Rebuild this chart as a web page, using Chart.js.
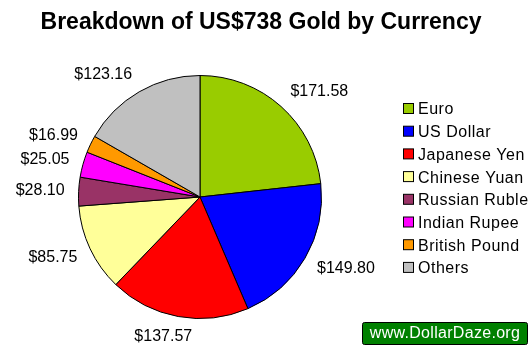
<!DOCTYPE html>
<html>
<head>
<meta charset="utf-8">
<script src="https://cdn.jsdelivr.net/npm/chart.js@4/dist/chart.umd.min.js"></script>
<style>
  body { margin: 0; background: #fff; }
  canvas { display: block; }
</style>
</head>
<body>
<canvas id="chart" width="530" height="349"></canvas>
<script>
const currencies = ['Euro', 'US Dollar', 'Japanese Yen', 'Chinese Yuan', 'Russian Ruble', 'Indian Rupee', 'British Pound', 'Others'];
const amounts = [171.58, 149.80, 137.57, 85.75, 28.10, 25.05, 16.99, 123.16];
const sliceColors = ['#99CC00', '#0000FF', '#FF0000', '#FFFF99', '#993366', '#FF00FF', '#FF9900', '#C0C0C0'];
const chartTitle = 'Breakdown of US$738 Gold by Currency';
const siteBadge = 'www.DollarDaze.org';

const FONT = 'Arial, "Liberation Sans", sans-serif';

// labels outside each slice + title, legend and site badge
const extras = {
  id: 'extras',
  afterDraw(chart) {
    const ctx = chart.ctx;
    const arcs = chart.getDatasetMeta(0).data;
    ctx.save();
    ctx.fillStyle = '#000';
    ctx.font = '16px ' + FONT;
    ctx.textAlign = 'left';
    ctx.textBaseline = 'middle';
    arcs.forEach((arc, i) => {
      const mid = (arc.startAngle + arc.endAngle) / 2;
      const r = arc.outerRadius + 14;
      const ax = arc.x + Math.cos(mid) * r;
      const ay = arc.y + Math.sin(mid) * r;
      const txt = '$' + amounts[i].toFixed(2);
      const w = ctx.measureText(txt).width;
      // excel-like: label hugs the anchor, centred only near top/bottom
      const f = Math.min(1, Math.max(0, 0.5 - Math.cos(mid) * 1.2));
      ctx.fillText(txt, ax - f * w, ay + Math.sin(mid) * 6);
    });

    // title
    ctx.font = 'bold 23px ' + FONT;
    ctx.textAlign = 'center';
    ctx.fillText(chartTitle, 261, 23);

    // legend
    ctx.font = '16px ' + FONT;
    ctx.letterSpacing = '0.5px';
    ctx.textAlign = 'left';
    currencies.forEach((name, i) => {
      const y = 109 + i * 22.7;
      ctx.fillStyle = sliceColors[i];
      ctx.fillRect(403.5, y - 5.5, 10, 10);
      ctx.strokeStyle = '#000';
      ctx.lineWidth = 1;
      ctx.strokeRect(403.5, y - 5.5, 10, 10);
      ctx.fillStyle = '#000';
      ctx.fillText(name, 418, y + 1);
    });

    // site badge
    ctx.fillStyle = '#008000';
    ctx.strokeStyle = '#000';
    ctx.beginPath();
    ctx.roundRect(362.5, 322.5, 165, 22, 2);
    ctx.fill();
    ctx.stroke();
    ctx.fillStyle = '#fff';
    ctx.letterSpacing = '0.3px';
    ctx.textAlign = 'center';
    ctx.fillText(siteBadge, 445, 334);
    ctx.restore();
  }
};

new Chart(document.getElementById('chart'), {
  type: 'pie',
  data: {
    labels: currencies,
    datasets: [{
      data: amounts,
      backgroundColor: sliceColors,
      borderColor: '#000',
      borderWidth: 1,
    }],
  },
  options: {
    responsive: false,
    animation: false,
    layout: { padding: { left: 78, right: 208, top: 75, bottom: 30 } },
    plugins: {
      legend: { display: false },
      tooltip: { enabled: false },
    },
  },
  plugins: [extras],
});
</script>
</body>
</html>
